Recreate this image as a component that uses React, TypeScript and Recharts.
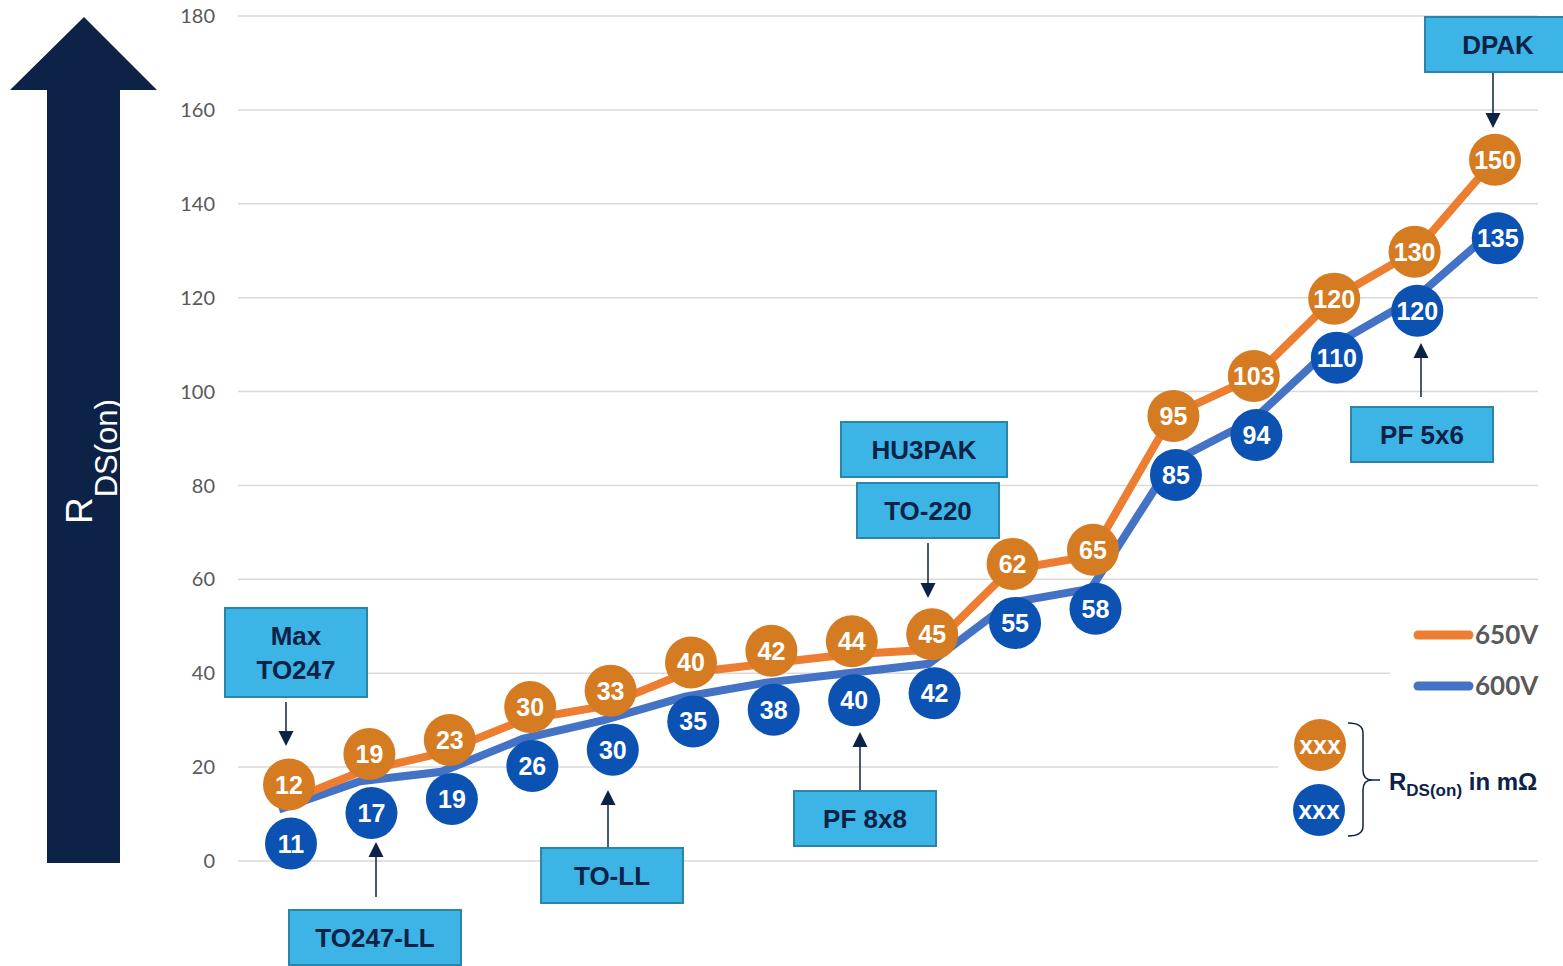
import React from 'react'
import { LineChart, Line, XAxis, YAxis, CartesianGrid } from 'recharts'

// RDS(on) per package slot, sorted by resistance
const slots = ['s01', 's02', 's03', 's04', 's05', 's06', 's07', 's08', 's09', 's10', 's11', 's12', 's13', 's14', 's15', 's16']
const rds650 = [12, 19, 23, 30, 33, 40, 42, 44, 45, 62, 65, 95, 103, 120, 130, 150]
const rds600 = [11, 17, 19, 26, 30, 35, 38, 40, 42, 55, 58, 85, 94, 110, 120, 135]
const yTicks = [0, 20, 40, 60, 80, 100, 120, 140, 160, 180]

const data = slots.map((s, i) => ({ slot: s, v650: rds650[i], v600: rds600[i] }))

const W = 1563
const H = 966
const PLOT_TOP = 16
const PLOT_BOTTOM = 861
const PX_PER_UNIT = (PLOT_BOTTOM - PLOT_TOP) / 180

const ORANGE_LINE = '#ED7D31'
const BLUE_LINE = '#4472C4'
const ORANGE_DOT = '#D57B22'
const BLUE_DOT = '#0B52B3'
const NAVY = '#0C2247'
const BOX_FILL = '#3CB4E5'
const BOX_STROKE = '#2B84AA'
const ARIAL = '"Liberation Sans", Arial, sans-serif'

// spread the two value bubbles apart around the pair of line points
function bubblePair(yO: number, yB: number) {
  const mid = (yO + yB) / 2 + 7
  const half = Math.max(29.5, (yB - yO) / 2 + 4)
  return [mid - half, mid + half]
}

function Bubble({ cx, cy, fill, text }: { cx: number; cy: number; fill: string; text: string | number }) {
  return (
    <g>
      <circle cx={cx} cy={cy} r={26} fill={fill} />
      <text
        x={cx}
        y={cy}
        textAnchor="middle"
        dominantBaseline="central"
        fill="#fff"
        fontFamily={ARIAL}
        fontWeight="bold"
        fontSize={25}
      >
        {text}
      </text>
    </g>
  )
}

// bubbles sit a little to the right of the points on the left side, converging at the end
const orangeBubble = (p: any) => {
  const { cx, cy, payload, index } = p
  const yB = cy + (payload.v650 - payload.v600) * PX_PER_UNIT
  const [o] = bubblePair(cy, yB)
  return <Bubble key={`o${index}`} cx={cx + 10 - index * 0.8} cy={o} fill={ORANGE_DOT} text={payload.v650} />
}

const blueBubble = (p: any) => {
  const { cx, cy, payload, index } = p
  const yO = cy - (payload.v650 - payload.v600) * PX_PER_UNIT
  const [, b] = bubblePair(yO, cy)
  return <Bubble key={`b${index}`} cx={cx + 12 - index * 0.75} cy={b} fill={BLUE_DOT} text={payload.v600} />
}

const callouts = [
  { lines: ['Max', 'TO247'], x: 225, y: 608, w: 142, h: 89 },
  { lines: ['TO247-LL'], x: 289, y: 910, w: 172, h: 55 },
  { lines: ['TO-LL'], x: 541, y: 848, w: 142, h: 55 },
  { lines: ['PF 8x8'], x: 794, y: 791, w: 142, h: 55 },
  { lines: ['HU3PAK'], x: 841, y: 422, w: 166, h: 55 },
  { lines: ['TO-220'], x: 857, y: 483, w: 142, h: 55 },
  { lines: ['PF 5x6'], x: 1351, y: 407, w: 142, h: 55 },
  { lines: ['DPAK'], x: 1425, y: 17, w: 146, h: 55 },
]

const pointers = [
  { x: 286, from: 702, to: 746 },
  { x: 376, from: 897, to: 842 },
  { x: 608, from: 847, to: 790 },
  { x: 860, from: 790, to: 732 },
  { x: 928, from: 543, to: 598 },
  { x: 1421, from: 397, to: 343 },
  { x: 1493, from: 73, to: 128 },
]

function Pointer({ x, from, to }: { x: number; from: number; to: number }) {
  const dir = to > from ? 1 : -1
  const base = to - dir * 15
  return (
    <g>
      <line x1={x} y1={from} x2={x} y2={base} stroke={NAVY} strokeWidth={1.5} />
      <polygon points={`${x},${to} ${x - 7.5},${base} ${x + 7.5},${base}`} fill={NAVY} />
    </g>
  )
}

function Overlay() {
  return (
    <svg
      width={W}
      height={H}
      style={{ position: 'absolute', left: 0, top: 0, pointerEvents: 'none' }}
    >
      {/* big y arrow */}
      <polygon points="84,17 157,90 120,90 120,863 47,863 47,90 10,90" fill={NAVY} />
      <text transform="translate(92,524) rotate(-90)" fill="#fff" fontFamily={ARIAL}>
        <tspan fontSize={37}>R</tspan>
        <tspan fontSize={31} dy={25}>DS(on)</tspan>
      </text>

      {/* legend background */}
      <rect x={1390} y={600} width={173} height={100} fill="#fff" />
      <rect x={1278} y={700} width={285} height={150} fill="#fff" />

      <line x1={1418} y1={635} x2={1469} y2={635} stroke={ORANGE_LINE} strokeWidth={9} strokeLinecap="round" />
      <line x1={1418} y1={686} x2={1469} y2={686} stroke={BLUE_LINE} strokeWidth={9} strokeLinecap="round" />
      <text x={1475} y={644} fill="#595959" fontFamily="Lato, sans-serif" fontWeight="bold" fontSize={26}>650V</text>
      <text x={1475} y={695} fill="#595959" fontFamily="Lato, sans-serif" fontWeight="bold" fontSize={26}>600V</text>

      <Bubble cx={1320} cy={745} fill={ORANGE_DOT} text="xxx" />
      <Bubble cx={1319} cy={810} fill={BLUE_DOT} text="xxx" />
      <path
        d="M1348,723 Q1363,723 1363,733 L1363,770 Q1363,780 1372,780 Q1363,780 1363,790 L1363,826 Q1363,836 1348,836"
        fill="none"
        stroke={NAVY}
        strokeWidth={1.5}
      />
      <line x1={1372} y1={780} x2={1380} y2={780} stroke={NAVY} strokeWidth={1.5} />
      <text x={1389} y={790} fill={NAVY} fontFamily={ARIAL} fontWeight="bold" fontSize={24}>
        <tspan>R</tspan>
        <tspan fontSize={17} dy={6}>DS(on)</tspan>
        <tspan dy={-6}> in mΩ</tspan>
      </text>

      {/* package callouts */}
      {callouts.map((c) => (
        <g key={c.lines.join('-')}>
          <rect x={c.x} y={c.y} width={c.w} height={c.h} fill={BOX_FILL} stroke={BOX_STROKE} strokeWidth={2} />
          {c.lines.map((t, i) => (
            <text
              key={t}
              x={c.x + c.w / 2}
              y={c.y + c.h / 2 + (i - (c.lines.length - 1) / 2) * 34}
              textAnchor="middle"
              dominantBaseline="central"
              fill={NAVY}
              fontFamily={ARIAL}
              fontWeight="bold"
              fontSize={26}
            >
              {t}
            </text>
          ))}
        </g>
      ))}
      {pointers.map((p) => (
        <Pointer key={p.x} {...p} />
      ))}
    </svg>
  )
}

export default function App() {
  return (
    <div style={{ position: 'absolute', left: 0, top: 0, width: W, height: H, overflow: 'hidden', background: '#fff' }}>
      <LineChart width={W} height={H} data={data} margin={{ top: PLOT_TOP, right: 25, left: 178, bottom: H - PLOT_BOTTOM }}>
        <CartesianGrid vertical={false} stroke="#D9D9D9" strokeWidth={1.5} />
        <XAxis dataKey="slot" hide padding={{ left: 41, right: 41 }} />
        <YAxis
          domain={[0, 180]}
          ticks={yTicks}
          width={60}
          tickLine={false}
          axisLine={false}
          tickMargin={17}
          tick={{ fontSize: 20, fill: '#595959', fontFamily: 'Lato, sans-serif' }}
        />
        <Line dataKey="v600" stroke={BLUE_LINE} strokeWidth={8} dot={false} isAnimationActive={false} />
        <Line dataKey="v650" stroke={ORANGE_LINE} strokeWidth={8} dot={false} isAnimationActive={false} />
        <Line dataKey="v600" stroke="none" dot={blueBubble} activeDot={false} isAnimationActive={false} />
        <Line dataKey="v650" stroke="none" dot={orangeBubble} activeDot={false} isAnimationActive={false} />
      </LineChart>
      <Overlay />
    </div>
  )
}
